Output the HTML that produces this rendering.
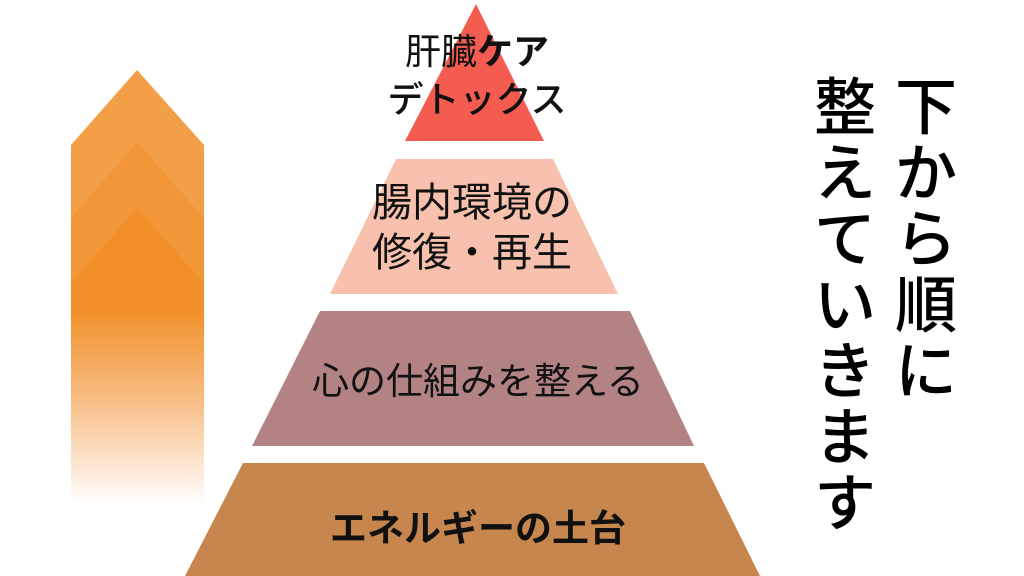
<!DOCTYPE html>
<html><head><meta charset="utf-8"><style>
body{margin:0;width:1024px;height:576px;overflow:hidden;background:#fff;position:relative;font-family:"Liberation Sans","Noto Sans CJK JP",sans-serif;}
.t{position:absolute;left:0;width:1024px;text-align:center;color:#111;white-space:nowrap;}
.v{position:absolute;width:66px;text-align:center;font-size:62px;font-weight:500;line-height:66px;color:#000;}
.v span{display:block;height:66px;}
</style></head><body>
<svg width="1024" height="576" style="position:absolute;left:0;top:0">
<defs>
<linearGradient id="g" gradientUnits="userSpaceOnUse" x1="0" y1="70" x2="0" y2="505">
<stop offset="0" stop-color="#f0902a"/>
<stop offset="0.55" stop-color="#f19028"/>
<stop offset="0.75" stop-color="#f6bb80"/>
<stop offset="1" stop-color="#ffffff"/>
</linearGradient>
</defs>
<polygon points="137,70 204,145 204,505 71,505 71,145" fill="url(#g)"/>
<polygon points="137,70 204,145 204,218 137,142 71,218 71,145" fill="#fff" opacity="0.14"/>
<polygon points="137,142 204,218 204,283 137,208 71,283 71,218" fill="#fff" opacity="0.07"/>
<polygon points="476,4 544,141 405,141" fill="#f45c50"/>
<polygon points="396,159 553,159 618,294 330,294" fill="#f7c1ad"/>
<polygon points="320,311 630,311 694,446 252,446" fill="#b38384"/>
<polygon points="243,463 704,463 760,576 185,576" fill="#c6864e"/>
</svg>
<div class="t" style="left:-35px;top:28px;font-size:36px;line-height:48px;">肝臓<b>ケア</b><br><span style="font-weight:500">デトックス</span></div>
<div class="t" style="left:-40px;top:178px;font-size:40px;line-height:50px;">腸内環境の<br>修復・再生</div>
<div class="t" style="left:-34px;top:359px;font-size:37px;line-height:46px;">心の仕組みを整える</div>
<div class="t" style="left:-34px;top:506px;font-size:37px;line-height:46px;font-weight:bold;">エネルギーの土台</div>
<div class="v" style="left:893px;top:76px;"><span>下</span><span>か</span><span>ら</span><span>順</span><span>に</span></div>
<div class="v" style="left:812px;top:76px;"><span>整</span><span>え</span><span>て</span><span>い</span><span>き</span><span>ま</span><span>す</span></div>
</body></html>
